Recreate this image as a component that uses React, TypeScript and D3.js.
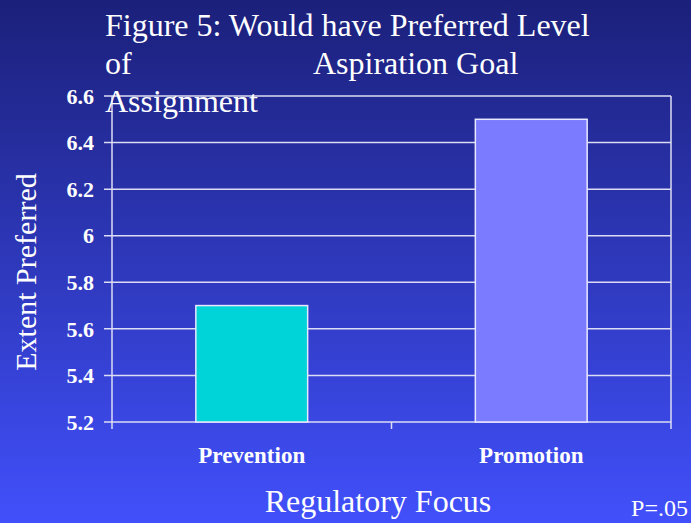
import React from 'react'
import * as d3 from 'd3'

const categories = ['Prevention', 'Promotion']
const preferred = [5.7, 6.5]
const yTicks = [5.2, 5.4, 5.6, 5.8, 6, 6.2, 6.4, 6.6]
const barColors = ['#00d4d8', '#7b7bff']

const width = 691
const height = 523
const margin = { top: 96, right: 20, bottom: 101, left: 112 }

export default function App() {
  const x = d3.scaleBand()
    .domain(categories)
    .range([margin.left, width - margin.right])
    .paddingInner(0.6)
    .paddingOuter(0.3)

  const y = d3.scaleLinear()
    .domain([5.2, 6.6])
    .range([height - margin.bottom, margin.top])

  const x0 = margin.left
  const x1 = width - margin.right
  const yBottom = y(5.2)
  const font = '"Liberation Serif", "Times New Roman", serif'

  return (
    <svg width={width} height={height}
      style={{ position: 'absolute', left: 0, top: 0, display: 'block' }}>
      <defs>
        <linearGradient id="bg" x1="0" y1="0" x2="0" y2="1">
          <stop offset="0%" stopColor="#1b207a" />
          <stop offset="100%" stopColor="#4150fb" />
        </linearGradient>
      </defs>
      <rect width={width} height={height} fill="url(#bg)" />

      {/* grid + y ticks */}
      {yTicks.map(t => (
        <g key={t}>
          <line x1={x0 - 8} x2={x1} y1={y(t)} y2={y(t)}
            stroke="#dcdcf4" strokeWidth={1.5} />
          <text x={94} y={y(t)} dy="0.35em" textAnchor="end"
            fontFamily={font} fontWeight="bold" fontSize={22} fill="#ffffff">
            {d3.format('~g')(t)}
          </text>
        </g>
      ))}

      {/* frame */}
      <line x1={x0} x2={x0} y1={margin.top} y2={yBottom + 7} stroke="#dcdcf4" strokeWidth={1.5} />
      <line x1={x1} x2={x1} y1={margin.top} y2={yBottom + 7} stroke="#dcdcf4" strokeWidth={1.5} />
      <line x1={(x0 + x1) / 2} x2={(x0 + x1) / 2} y1={yBottom} y2={yBottom + 7} stroke="#dcdcf4" strokeWidth={1.5} />

      {/* bars */}
      {categories.map((c, i) => (
        <rect key={c}
          x={x(c)} width={x.bandwidth()}
          y={y(preferred[i])} height={yBottom - y(preferred[i])}
          fill={barColors[i]} stroke="#e8e8ff" strokeWidth={1.5} />
      ))}

      {/* category labels */}
      {categories.map(c => (
        <text key={c} x={(x(c) as number) + x.bandwidth() / 2} y={463}
          textAnchor="middle" fontFamily={font} fontWeight="bold"
          fontSize={23} fill="#ffffff">{c}</text>
      ))}

      {/* title */}
      <g fontFamily={font} fontSize={32} fill="#ffffff">
        <text x={105} y={36}>Figure 5: Would have Preferred Level</text>
        <text x={105} y={74}>of</text>
        <text x={313} y={74}>Aspiration Goal</text>
        <text x={105} y={112}>Assignment</text>
      </g>

      <text transform={`translate(36, 272) rotate(-90)`} textAnchor="middle"
        fontFamily={font} fontSize={30} fill="#ffffff">Extent Preferred</text>

      <text x={378} y={512} textAnchor="middle" fontFamily={font}
        fontSize={32} fill="#ffffff">Regulatory Focus</text>

      <text x={688} y={516} textAnchor="end" fontFamily={font}
        fontSize={24} fill="#ffffff">P=.05</text>
    </svg>
  )
}
